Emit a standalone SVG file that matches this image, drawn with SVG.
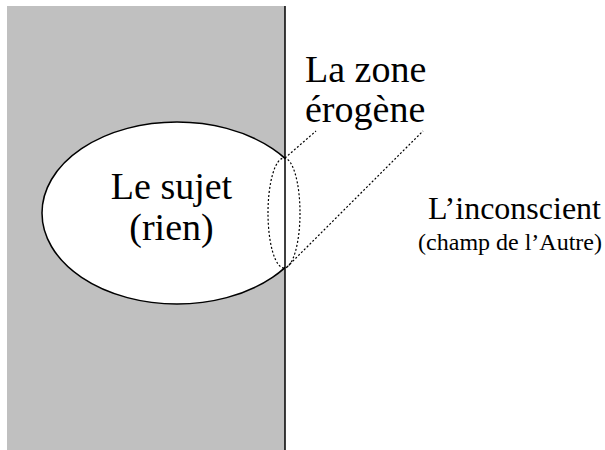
<svg xmlns="http://www.w3.org/2000/svg" width="605" height="450" viewBox="0 0 605 450">
  <style>
    text { font-family: "Liberation Serif", "Times New Roman", serif; fill: #000; }
    .big { font-size: 38px; }
    .mid { font-size: 32px; }
    .small { font-size: 24px; }
    .dotted { fill: none; stroke: #000; stroke-width: 1.2; stroke-dasharray: 2 2; }
  </style>
  <defs>
    <clipPath id="leftSide">
      <rect x="0" y="0" width="285" height="450"/>
    </clipPath>
  </defs>
  <rect width="605" height="450" fill="#fff"/>

  <!-- grey field on the left -->
  <g id="field">
    <rect x="7" y="6" width="278" height="444" fill="#c0c0c0"/>
  </g>

  <!-- the subject: ellipse cut by the boundary -->
  <g id="sujet">
    <ellipse cx="177" cy="213" rx="135" ry="91" fill="#fff" stroke="#000" stroke-width="1.5" clip-path="url(#leftSide)"/>
    <text class="big" x="171.5" y="199" text-anchor="middle">Le sujet</text>
    <text class="big" x="171.5" y="240" text-anchor="middle">(rien)</text>
  </g>

  <!-- boundary line -->
  <g id="boundary">
    <line x1="285" y1="6" x2="285" y2="450" stroke="#000" stroke-width="1.5"/>
  </g>

  <!-- erogenous zone -->
  <g id="zone">
    <ellipse class="dotted" cx="284" cy="213" rx="16" ry="55"/>
    <text class="big" x="305" y="82">La zone</text>
    <text class="big" x="305" y="122">érogène</text>
  </g>

  <g id="inconscient">
    <text class="mid" x="601" y="219" text-anchor="end">L’inconscient</text>
    <text class="small" x="602" y="250" text-anchor="end">(champ de l’Autre)</text>
  </g>

  <!-- dotted leaders from the zone to its label -->
  <g id="connectors">
    <line class="dotted" x1="285" y1="158" x2="316" y2="131"/>
    <line class="dotted" x1="287" y1="267" x2="423" y2="131"/>
  </g>
</svg>
